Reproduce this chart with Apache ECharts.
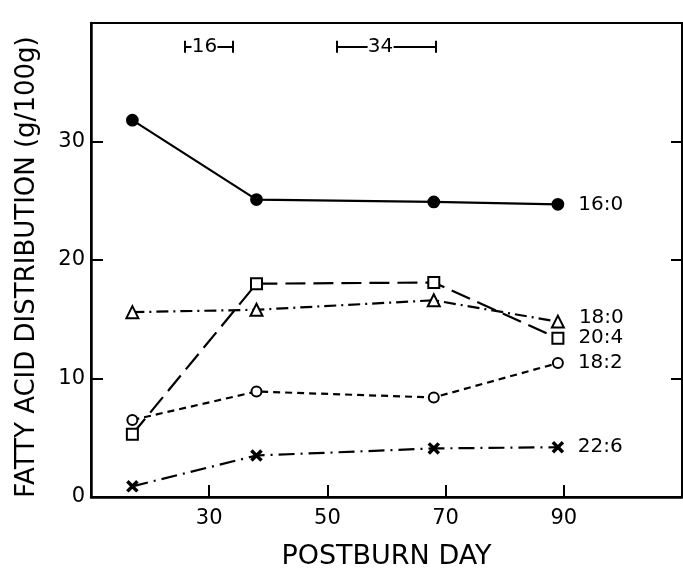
<!DOCTYPE html>
<html><head><meta charset="utf-8">
<script src="https://cdn.jsdelivr.net/npm/echarts@6/dist/echarts.min.js"></script>
<style>html,body{margin:0;padding:0;background:#fff}#c{width:683px;height:570px}</style>
</head><body><div id="c"></div>
<script>
var days = [17, 38, 68, 89];
var s160 = [31.8, 25.1, 24.9, 24.7];
var s204 = [5.3, 18.0, 18.1, 13.4];
var s180 = [15.6, 15.8, 16.6, 14.8];
var s182 = [6.5, 8.9, 8.4, 11.3];
var s226 = [0.9, 3.5, 4.1, 4.2];
var seriesNames = ['16:0', '18:0', '20:4', '18:2', '22:6'];
var xTicks = [30, 50, 70, 90];
var yTicks = [0, 10, 20, 30];
var ranges = [{label: '16', from: 25.9, to: 34, mid: 29.2}, {label: '34', from: 51.5, to: 68.3, mid: 59.0}];
var rangeY = 38.0;

var FONT = 'DejaVu Sans';
function pts(vals){ return days.map(function(d,i){ return [d, vals[i]]; }); }
var xPath = 'path://M0,1.2 L1.2,0 L5,3.8 L8.8,0 L10,1.2 L6.2,5 L10,8.8 L8.8,10 L5,6.2 L1.2,10 L0,8.8 L3.8,5 Z';

function mk(name, vals, symbol, size, dash, width, labelOffsetY){
  return {
    name: name, type: 'line', data: pts(vals), symbol: symbol, symbolSize: size,
    lineStyle: {color: '#000', width: width, type: dash},
    itemStyle: {color: '#000', borderColor: '#000', borderWidth: 1.8},
    label: {show: true, position: 'right', distance: 14, color: '#000', fontFamily: FONT, fontSize: 20,
      offset: [0, labelOffsetY || 0],
      formatter: function(p){ return p.dataIndex === 3 ? name : ''; }},
    emphasis: {disabled: true}, silent: true, z: 3
  };
}

var capLines = [];
ranges.forEach(function(r){
  capLines.push([{coord: [r.from, rangeY - 0.5]}, {coord: [r.from, rangeY + 0.5]}]);
  capLines.push([{coord: [r.to, rangeY - 0.5]}, {coord: [r.to, rangeY + 0.5]}]);
  capLines.push([{coord: [r.from, rangeY]}, {coord: [r.to, rangeY]}]);
});

var chart = echarts.init(document.getElementById('c'), null, {renderer: 'canvas'});
chart.setOption({
  animation: false,
  backgroundColor: '#fff',
  grid: {left: 91, right: 1, top: 23, bottom: 73, show: true, borderColor: '#000', borderWidth: 2,
    containLabel: false, outerBoundsMode: 'none'},
  xAxis: {
    type: 'value', min: 10, max: 110,
    name: 'POSTBURN DAY', nameLocation: 'middle', nameGap: 46,
    nameTextStyle: {fontFamily: FONT, fontSize: 27, color: '#000'},
    axisLine: {lineStyle: {color: '#000', width: 2.5}},
    axisTick: {inside: true, length: 12, lineStyle: {color: '#000', width: 2}, customValues: xTicks},
    axisLabel: {margin: 11, fontFamily: FONT, fontSize: 21, color: '#000', customValues: xTicks},
    splitLine: {show: false}
  },
  yAxis: [{
    type: 'value', min: 0, max: 40, position: 'left',
    name: 'FATTY ACID DISTRIBUTION (g/100g)', nameLocation: 'middle', nameGap: 51,
    nameTextStyle: {fontFamily: FONT, fontSize: 26, color: '#000', padding: [0, 14, 0, 0]},
    axisLine: {show: true, lineStyle: {color: '#000', width: 2.5}},
    axisTick: {inside: true, length: 12, lineStyle: {color: '#000', width: 2}, customValues: [10, 20, 30]},
    axisLabel: {margin: 6, fontFamily: FONT, fontSize: 21, color: '#000', customValues: yTicks},
    splitLine: {show: false}
  }, {
    type: 'value', min: 0, max: 40, position: 'right',
    axisLine: {show: true, lineStyle: {color: '#000', width: 2}},
    axisTick: {inside: true, length: 11, lineStyle: {color: '#000', width: 2}, customValues: [10, 20, 30]},
    axisLabel: {show: false},
    splitLine: {show: false}
  }],
  series: [
    mk(seriesNames[0], s160, 'circle', 11, 'solid', 2.2, 0),
    mk(seriesNames[1], s180, 'emptyTriangle', 12, [12, 5, 2, 5], 2.2, -4),
    mk(seriesNames[2], s204, 'emptyRect', 11, [20, 8], 2.2, 0),
    mk(seriesNames[3], s182, 'emptyCircle', 10, [7, 5], 2.2, 0),
    mk(seriesNames[4], s226, xPath, 10, [16, 6, 2, 6], 2.2, 0),
    {
      type: 'line', data: [], silent: true, z: 2,
      markLine: {
        silent: true, symbol: 'none', animation: false,
        lineStyle: {color: '#000', width: 2, type: 'solid'},
        label: {show: false},
        data: capLines
      }
    },
    {
      type: 'scatter', symbol: 'rect', symbolSize: [26, 20], silent: true, z: 10,
      itemStyle: {color: '#fff', opacity: 1},
      emphasis: {disabled: true},
      data: ranges.map(function(r){ return {value: [r.mid, rangeY], name: r.label}; }),
      label: {show: true, position: 'inside', formatter: '{b}', color: '#000', fontFamily: FONT, fontSize: 20}
    }
  ]
});
</script></body></html>
